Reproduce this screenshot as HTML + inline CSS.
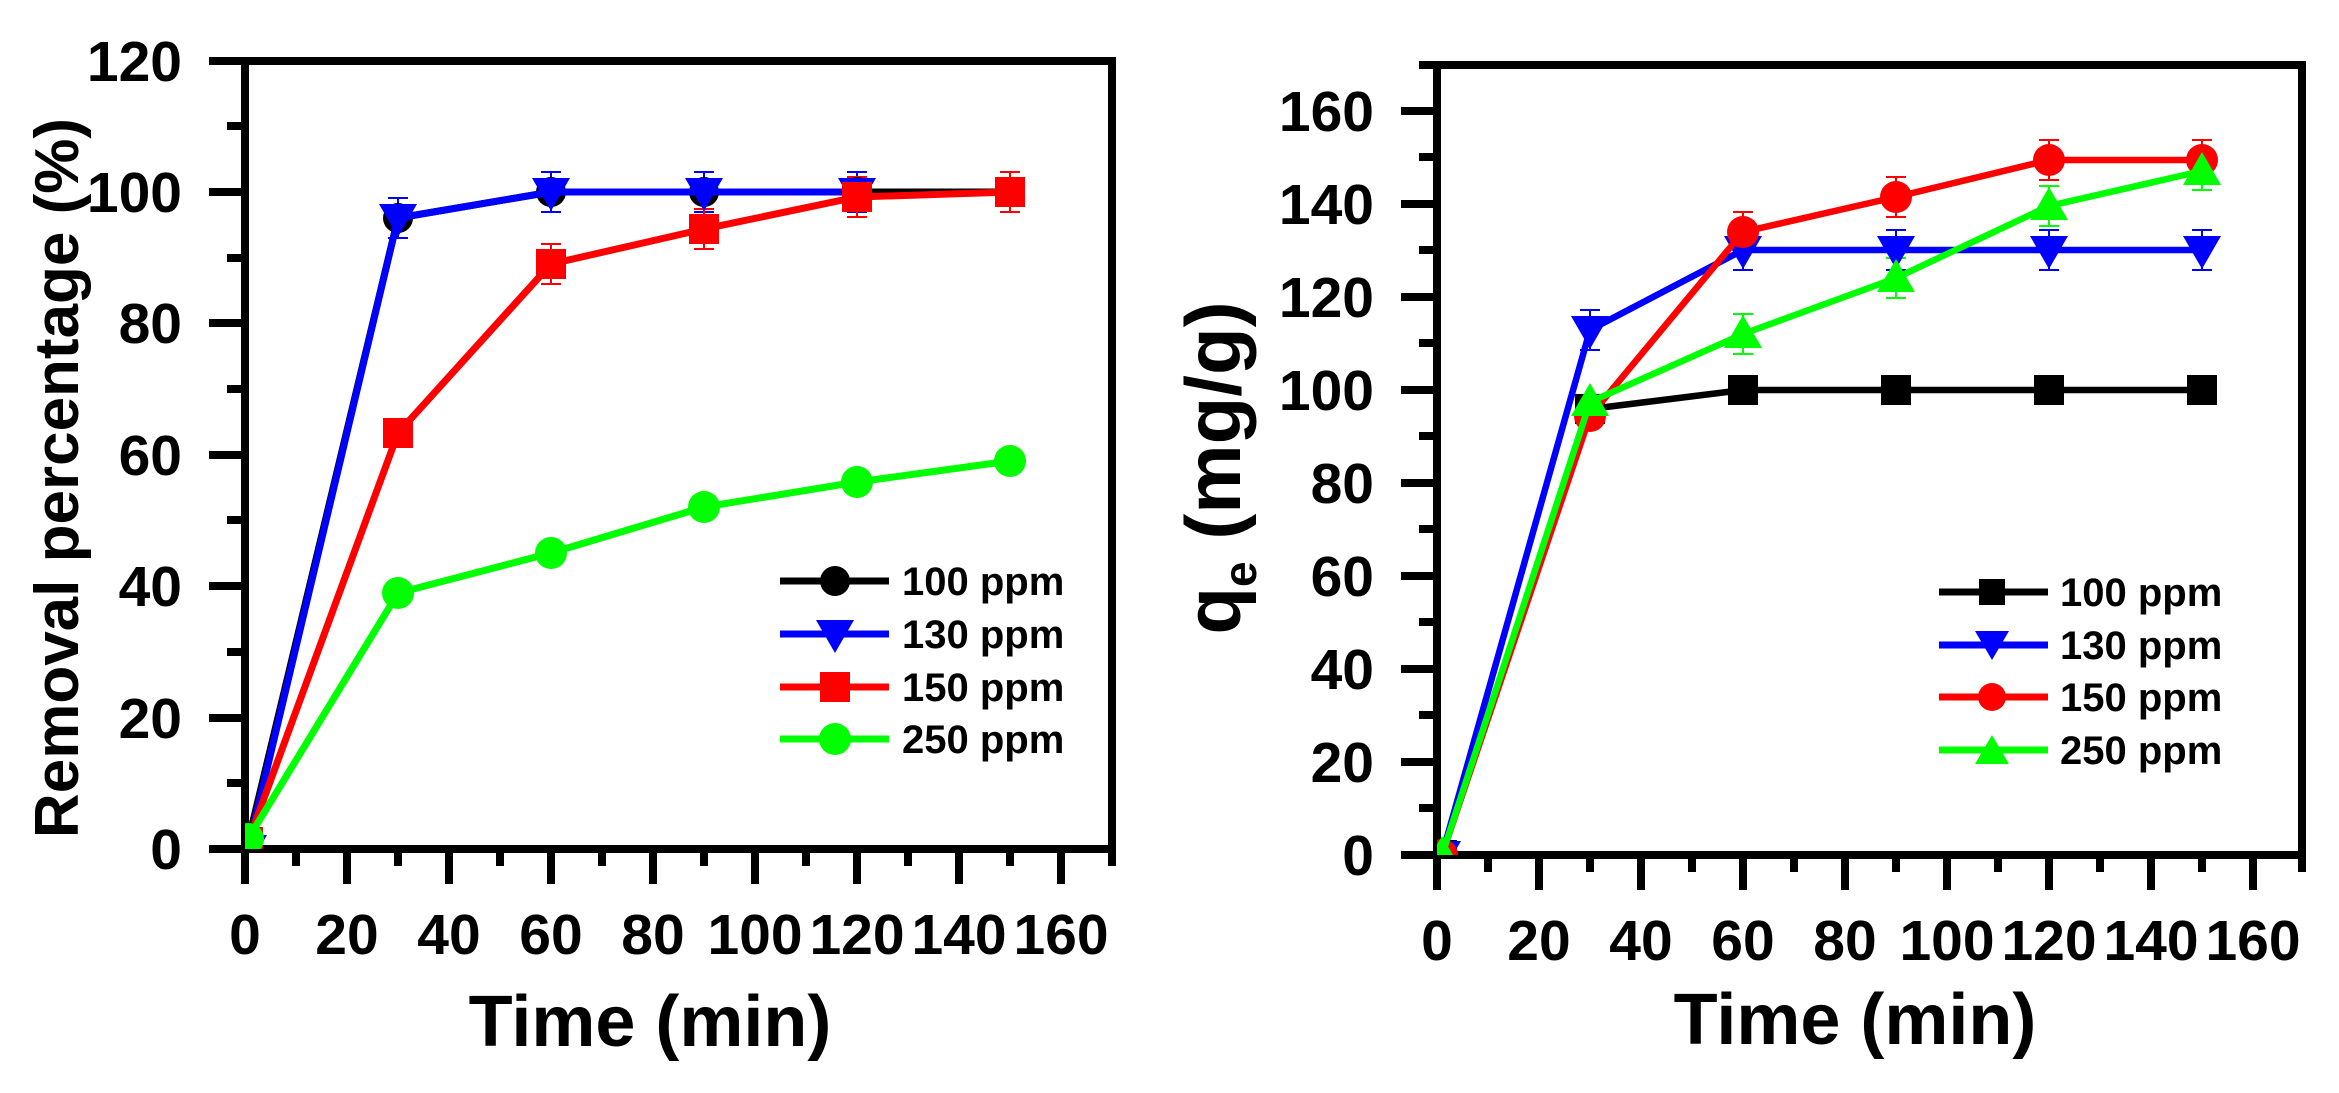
<!DOCTYPE html>
<html><head><meta charset="utf-8"><style>
html,body{margin:0;padding:0;background:#fff}
svg text{font-family:"Liberation Sans",Arial,sans-serif;font-weight:bold;fill:#000}
</style></head><body>
<svg width="2339" height="1088" viewBox="0 0 2339 1088" xmlns="http://www.w3.org/2000/svg">
<defs>
<clipPath id="cl"><rect x="245" y="57" width="871" height="792"/></clipPath>
<clipPath id="cr"><rect x="1437" y="61" width="869" height="794"/></clipPath>
</defs>

<g stroke="#000" stroke-width="8" fill="none">
<rect x="245" y="61" width="867" height="788"/>
<path d="M209 849H245M209 718H245M209 586H245M209 455H245M209 323H245M209 192H245M209 61H245"/>
<path d="M227 783H245M227 652H245M227 520H245M227 389H245M227 258H245M227 126H245"/>
<path d="M245 849V884M347 849V884M449 849V884M551 849V884M653 849V884M755 849V884M857 849V884M959 849V884M1061 849V884"/>
<path d="M296 849V866M398 849V866M500 849V866M602 849V866M704 849V866M806 849V866M908 849V866M1010 849V866M1112 849V866"/>
</g>
<g font-size="57" text-anchor="end">
<text x="182" y="869">0</text><text x="182" y="738">20</text><text x="182" y="606">40</text><text x="182" y="475">60</text><text x="182" y="343">80</text><text x="182" y="212">100</text><text x="182" y="81">120</text>
</g>
<g font-size="57" text-anchor="middle">
<text x="245" y="954">0</text><text x="347" y="954">20</text><text x="449" y="954">40</text><text x="551" y="954">60</text><text x="653" y="954">80</text><text x="755" y="954">100</text><text x="857" y="954">120</text><text x="959" y="954">140</text><text x="1061" y="954">160</text>
</g>
<text x="650" y="1046" font-size="72" text-anchor="middle">Time (min)</text>
<text transform="translate(78,478) rotate(-90)" font-size="62" text-anchor="middle">Removal percentage (%)</text>

<g clip-path="url(#cl)">
<g stroke-width="2" fill="none">
<path stroke="#00f" d="M398 198V238M388 198H408M388 238H408M551 172V212M541 172H561M541 212H561M704 172V212M694 172H714M694 212H714M857 172V212M847 172H867M847 212H867"/>
<path stroke="#f00" d="M551 244V284M541 244H561M541 284H561M704 209V249M694 209H714M694 249H714M857 177V217M847 177H867M847 217H867M1010 172V212M1000 172H1020M1000 212H1020"/>
</g>
<polyline fill="none" stroke="#000" stroke-width="7" points="248,842 398,218 551,192 704,192 857,192 1010,192"/>
<g fill="#000"><circle cx="248" cy="842" r="15"/><circle cx="398" cy="218" r="15"/><circle cx="551" cy="192" r="15"/><circle cx="704" cy="192" r="15"/><circle cx="857" cy="192" r="15"/><circle cx="1010" cy="192" r="15"/></g>
<polyline fill="none" stroke="#00f" stroke-width="7" points="248,849 398,218 551,192 704,192 857,192"/>
<g fill="#00f">
<polygon points="229,835 267,835 248,868"/><polygon points="379,204 417,204 398,237"/><polygon points="532,178 570,178 551,211"/><polygon points="685,178 723,178 704,211"/><polygon points="838,178 876,178 857,211"/>
</g>
<polyline fill="none" stroke="#f00" stroke-width="7" points="248,842 398,433 551,264 704,229 857,197 1010,192"/>
<g fill="#f00"><rect x="233" y="827" width="30" height="30"/><rect x="383" y="418" width="30" height="30"/><rect x="536" y="249" width="30" height="30"/><rect x="689" y="214" width="30" height="30"/><rect x="842" y="182" width="30" height="30"/><rect x="995" y="177" width="30" height="30"/></g>
<polyline fill="none" stroke="#0f0" stroke-width="7" points="248,839 398,593 551,553 704,507 857,482 1010,461"/>
<g fill="#0f0"><circle cx="248" cy="839" r="16"/><circle cx="398" cy="593" r="16"/><circle cx="551" cy="553" r="16"/><circle cx="704" cy="507" r="16"/><circle cx="857" cy="482" r="16"/><circle cx="1010" cy="461" r="16"/></g>
</g>

<g stroke-width="7">
<line x1="780" y1="581" x2="889" y2="581" stroke="#000"/><circle cx="835" cy="581" r="15" fill="#000"/>
<line x1="780" y1="634" x2="889" y2="634" stroke="#00f"/><polygon points="816,620 854,620 835,653" fill="#00f"/>
<line x1="780" y1="687" x2="889" y2="687" stroke="#f00"/><rect x="820" y="672" width="30" height="30" fill="#f00"/>
<line x1="780" y1="739" x2="889" y2="739" stroke="#0f0"/><circle cx="835" cy="739" r="16" fill="#0f0"/>
</g>
<g font-size="40">
<text x="902" y="595">100 ppm</text><text x="902" y="648">130 ppm</text><text x="902" y="701">150 ppm</text><text x="902" y="753">250 ppm</text>
</g>

<g stroke="#000" stroke-width="8" fill="none">
<rect x="1437" y="65" width="865" height="790"/>
<path d="M1401 855H1437M1401 762H1437M1401 669H1437M1401 576H1437M1401 483H1437M1401 390H1437M1401 297H1437M1401 204H1437M1401 111H1437"/>
<path d="M1419 808H1437M1419 715H1437M1419 622H1437M1419 529H1437M1419 436H1437M1419 343H1437M1419 250H1437M1419 157H1437M1419 65H1437"/>
<path d="M1437 855V890M1539 855V890M1641 855V890M1743 855V890M1845 855V890M1947 855V890M2049 855V890M2151 855V890M2253 855V890"/>
<path d="M1488 855V872M1590 855V872M1692 855V872M1794 855V872M1896 855V872M1998 855V872M2100 855V872M2202 855V872M2302 855V872"/>
</g>
<g font-size="57" text-anchor="end">
<text x="1374" y="875">0</text><text x="1374" y="782">20</text><text x="1374" y="689">40</text><text x="1374" y="596">60</text><text x="1374" y="503">80</text><text x="1374" y="410">100</text><text x="1374" y="317">120</text><text x="1374" y="224">140</text><text x="1374" y="131">160</text>
</g>
<g font-size="57" text-anchor="middle">
<text x="1437" y="960">0</text><text x="1539" y="960">20</text><text x="1641" y="960">40</text><text x="1743" y="960">60</text><text x="1845" y="960">80</text><text x="1947" y="960">100</text><text x="2049" y="960">120</text><text x="2151" y="960">140</text><text x="2253" y="960">160</text>
</g>
<text x="1855" y="1044" font-size="72" text-anchor="middle">Time (min)</text>
<text transform="translate(1240,468) rotate(-90)" font-size="78" text-anchor="middle">q<tspan font-size="46" dy="16">e</tspan><tspan dy="-16"> (mg/g)</tspan></text>

<g clip-path="url(#cr)">
<g stroke-width="2" fill="none">
<path stroke="#00f" d="M1590 310V350M1580 310H1600M1580 350H1600M1743 230V270M1733 230H1753M1733 270H1753M1896 230V270M1886 230H1906M1886 270H1906M2049 230V270M2039 230H2059M2039 270H2059M2202 230V270M2192 230H2212M2192 270H2212"/>
<path stroke="#f00" d="M1743 212V252M1733 212H1753M1733 252H1753M1896 177V217M1886 177H1906M1886 217H1906M2049 140V180M2039 140H2059M2039 180H2059M2202 140V180M2192 140H2212M2192 180H2212"/>
<path stroke="#0f0" d="M1743 314V354M1733 314H1753M1733 354H1753M1896 258V298M1886 258H1906M1886 298H1906M2049 186V226M2039 186H2059M2039 226H2059M2202 150V190M2192 150H2212M2192 190H2212"/>
</g>
<polyline fill="none" stroke="#000" stroke-width="6.5" points="1442,855 1590,409 1743,390 1896,390 2049,390 2202,390"/>
<g fill="#000"><rect x="1427" y="840" width="30" height="30"/><rect x="1575" y="394" width="30" height="30"/><rect x="1728" y="375" width="30" height="30"/><rect x="1881" y="375" width="30" height="30"/><rect x="2034" y="375" width="30" height="30"/><rect x="2187" y="375" width="30" height="30"/></g>
<polyline fill="none" stroke="#00f" stroke-width="6.5" points="1442,855 1590,330 1743,250 1896,250 2049,250 2202,250"/>
<g fill="#00f"><polygon points="1423,841 1461,841 1442,874"/><polygon points="1571,316 1609,316 1590,349"/><polygon points="1724,236 1762,236 1743,269"/><polygon points="1877,236 1915,236 1896,269"/><polygon points="2030,236 2068,236 2049,269"/><polygon points="2183,236 2221,236 2202,269"/></g>
<polyline fill="none" stroke="#f00" stroke-width="6.5" points="1442,855 1590,416 1743,232 1896,197 2049,160 2202,160"/>
<g fill="#f00"><circle cx="1442" cy="855" r="16"/><circle cx="1590" cy="416" r="16"/><circle cx="1743" cy="232" r="16"/><circle cx="1896" cy="197" r="16"/><circle cx="2049" cy="160" r="16"/><circle cx="2202" cy="160" r="16"/></g>
<polyline fill="none" stroke="#0f0" stroke-width="6.5" points="1442,855 1590,402 1743,334 1896,278 2049,206 2202,171"/>
<g fill="#0f0"><polygon points="1423,869 1461,869 1442,836"/><polygon points="1571,416 1609,416 1590,383"/><polygon points="1724,348 1762,348 1743,315"/><polygon points="1877,292 1915,292 1896,259"/><polygon points="2030,220 2068,220 2049,187"/><polygon points="2183,185 2221,185 2202,152"/></g>
</g>

<g stroke-width="7">
<line x1="1939" y1="592" x2="2048" y2="592" stroke="#000"/><rect x="1979" y="579" width="26" height="26" fill="#000"/>
<line x1="1939" y1="645" x2="2048" y2="645" stroke="#00f"/><polygon points="1975,631 2009,631 1992,660" fill="#00f"/>
<line x1="1939" y1="697" x2="2048" y2="697" stroke="#f00"/><circle cx="1992" cy="697" r="14" fill="#f00"/>
<line x1="1939" y1="750" x2="2048" y2="750" stroke="#0f0"/><polygon points="1975,764 2009,764 1992,735" fill="#0f0"/>
</g>
<g font-size="40">
<text x="2060" y="606">100 ppm</text><text x="2060" y="659">130 ppm</text><text x="2060" y="711">150 ppm</text><text x="2060" y="764">250 ppm</text>
</g>
</svg>
</body></html>
